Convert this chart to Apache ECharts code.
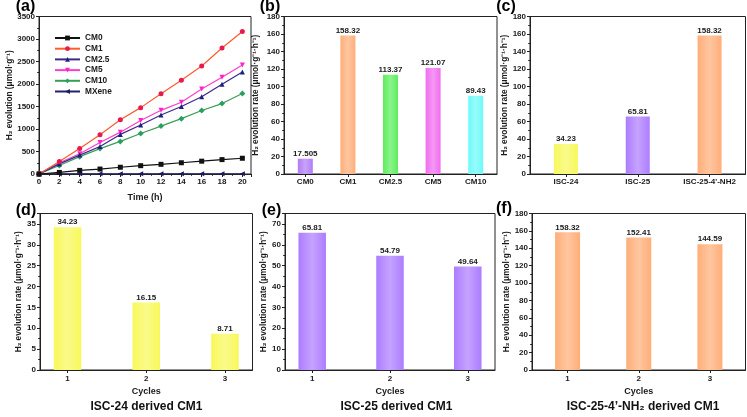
<!DOCTYPE html>
<html><head><meta charset="utf-8">
<script src="https://cdn.jsdelivr.net/npm/echarts@6/dist/echarts.min.js"></script>
<style>html,body{margin:0;padding:0;background:#fff}#c{width:747px;height:417px}</style>
</head><body><div id="c"></div>
<script>
// ---- data ----
const timeH = [0,2,4,6,8,10,12,14,16,18,20];
const cm0  = [0,35,80,110,150,185,215,250,285,320,350];
const cm1  = [0,280,565,870,1205,1475,1785,2085,2400,2800,3165];
const cm25 = [0,225,420,610,880,1090,1310,1500,1715,1995,2265];
const cm5  = [0,250,450,700,930,1190,1415,1595,1890,2150,2420];
const cm10 = [0,190,385,565,725,900,1065,1230,1410,1565,1790];
const mxene= [0,2,3,3,4,4,5,5,5,6,6];
const lineNames = ['CM0','CM1','CM2.5','CM5','CM10','MXene'];

const catsB = ['CM0','CM1','CM2.5','CM5','CM10'];
const valsB = [17.505,158.32,113.37,121.07,89.43];
const catsC = ['ISC-24','ISC-25',"ISC-25-4'-NH2"];
const valsC = [34.23,65.81,158.32];
const cycles = [1,2,3];
const valsD = [34.23,16.15,8.71];
const valsE = [65.81,54.79,49.64];
const valsF = [158.32,152.41,144.59];

// ---- styles ----
const FF = '"Liberation Sans", Arial, sans-serif';
const txt = (s) => ({fontFamily:FF, fontWeight:'bold', fontSize:s, color:'#1a1a1a'});
const PURPLE='#b07cf8', ORANGE='#ffae78', GREEN='#5cee5c', MAGENTA='#f26cf0', CYAN='#6cfafa', YELLOW='#f8f85a', VIOLET='#ad7cff';
function grad(c){
  return {type:'linear',x:0,y:0,x2:1,y2:0,colorStops:[
    {offset:0,color:c},{offset:0.5,color:echarts.color.lift(c,0.3)},{offset:1,color:c}]};
}
const colsB=[PURPLE,ORANGE,GREEN,MAGENTA,CYAN];
const colsC=[YELLOW,VIOLET,ORANGE];

const grids = [
  {left:39, top:16.5, width:212, height:157.5},
  {left:284, top:16.5, width:213, height:157.5},
  {left:530, top:16.5, width:215.5, height:157.5},
  {left:40, top:213.5, width:212.5, height:156.5},
  {left:285, top:213.5, width:210, height:156.5},
  {left:532, top:213.5, width:213.5, height:156.5}
].map(g=>Object.assign(g,{show:true,borderColor:'#222',borderWidth:1,containLabel:false}));

const rawFmt = (v)=>String(v);
function yAx(i,max,interval,gap){
  return {gridIndex:i,type:'value',min:0,max:max,interval:interval,
    name:'H\u2082 evolution rate (\u03bcmol\u00b7g\u207b\u00b9\u00b7h\u207b\u00b9)',
    nameLocation:'middle',nameGap:gap,nameTextStyle:txt(8.3),
    axisLine:{show:true,lineStyle:{color:'#222',width:1}},
    axisTick:{show:true,length:3,lineStyle:{color:'#222'}},
    minorTick:{show:true,splitNumber:2,length:1.8,lineStyle:{color:'#222'}},
    splitLine:{show:false},
    axisLabel:Object.assign({margin:4,formatter:rawFmt,showMaxLabel:interval*Math.round(max/interval)===max},txt(8))};
}
function catX(i,cats){
  return {gridIndex:i,type:'category',data:cats,boundaryGap:true,
    axisLine:{show:true,lineStyle:{color:'#222'}},
    axisTick:{show:true,alignWithLabel:true,length:3,lineStyle:{color:'#222'}},
    axisLabel:Object.assign({margin:4,interval:0},txt(8))};
}
function cycX(i,min,max){
  return {gridIndex:i,type:'value',min:min,max:max,
    name:'Cycles',nameLocation:'middle',nameGap:17,nameTextStyle:txt(9),
    axisLine:{show:true,lineStyle:{color:'#222'}},
    axisTick:{show:true,length:3,customValues:cycles,lineStyle:{color:'#222'}},
    splitLine:{show:false},
    axisLabel:Object.assign({margin:5,customValues:cycles},txt(8))};
}
const barLabel = Object.assign({show:true,position:'top',distance:1},txt(8));

const lineStyles = [
  {c:'#111111',m:'#111111',s:'rect',r:0},
  {c:'#ff5a30',m:'#e8194f',s:'circle',r:0},
  {c:'#3b2a8c',m:'#1f1f80',s:'triangle',r:0},
  {c:'#ff3fc8',m:'#ff22cc',s:'triangle',r:180},
  {c:'#3a9e55',m:'#2aa060',s:'diamond',r:0},
  {c:'#23236b',m:'#1a1a5e',s:'triangle',r:90}
];
const lineData=[cm0,cm1,cm25,cm5,cm10,mxene];
const lineSeries = lineData.map((d,k)=>({
  name:lineNames[k],type:'line',xAxisIndex:0,yAxisIndex:0,
  data:timeH.map((t,j)=>[t,d[j]]),
  symbol:lineStyles[k].s,symbolRotate:lineStyles[k].r,symbolSize:lineStyles[k].s==='diamond'?6:5,
  lineStyle:{color:lineStyles[k].c,width:1.2},
  itemStyle:{color:lineStyles[k].m},
  z:10-k, animation:false
}));

const option = {
  animation:false,
  grid:grids,
  legend:{orient:'vertical',left:54,top:34,itemWidth:25,itemHeight:6,itemGap:2.7,
    data:lineNames,textStyle:Object.assign({lineHeight:8},txt(8.3)),padding:0},
  xAxis:[
    {gridIndex:0,type:'value',min:0,max:20.85,interval:2,
      name:'Time (h)',nameLocation:'middle',nameGap:19,nameTextStyle:txt(9),
      axisLine:{show:true,lineStyle:{color:'#222'}},
      axisTick:{show:true,length:3,lineStyle:{color:'#222'}},
      minorTick:{show:true,splitNumber:2,length:1.8,lineStyle:{color:'#222'}},
      splitLine:{show:false},
      axisLabel:Object.assign({margin:4,showMaxLabel:false,formatter:rawFmt},txt(8))},
    catX(1,catsB), catX(2,catsC),
    cycX(3,0.65,3.35), cycX(4,0.65,3.35),
    Object.assign(catX(5,cycles.map(String)),{name:'Cycles',nameLocation:'middle',nameGap:17,nameTextStyle:txt(9),axisLabel:Object.assign({margin:5,interval:0},txt(8))})
  ],
  yAxis:[
    Object.assign(yAx(0,3500,500,25),{name:'H\u2082 evolution (\u03bcmol\u00b7g\u207b\u00b9)'}),
    yAx(1,180,20,24.5), yAx(2,180,20,19),
    yAx(3,37.5,5,15.5), yAx(4,75,10,15.5), yAx(5,180,20,20.5)
  ],
  series: lineSeries.concat([
    {type:'bar',xAxisIndex:1,yAxisIndex:1,barWidth:15,label:barLabel,
      data:valsB.map((v,k)=>({value:v,itemStyle:{color:grad(colsB[k])}}))},
    {type:'bar',xAxisIndex:2,yAxisIndex:2,barWidth:24,label:barLabel,
      data:valsC.map((v,k)=>({value:v,itemStyle:{color:grad(colsC[k])}}))},
    {type:'bar',xAxisIndex:3,yAxisIndex:3,barWidth:27.5,label:barLabel,
      itemStyle:{color:grad(YELLOW)},data:cycles.map((c,k)=>[c,valsD[k]])},
    {type:'bar',xAxisIndex:4,yAxisIndex:4,barWidth:27.5,label:barLabel,
      itemStyle:{color:grad(VIOLET)},data:cycles.map((c,k)=>[c,valsE[k]])},
    {type:'bar',xAxisIndex:5,yAxisIndex:5,barWidth:25,label:barLabel,
      itemStyle:{color:grad(ORANGE)},data:valsF}
  ]),
  graphic:[
    ['(a)',25.5,7],['(b)',270,7],['(c)',506,7],['(d)',26,211],['(e)',271.5,211],['(f)',504,209]
  ].map(([t,x,y])=>({type:'text',x:x,y:y,style:{text:t,font:'bold 16px '+FF,fill:'#000',align:'center',verticalAlign:'middle'}}))
  .concat([
    ['ISC-24 derived CM1',146.5],['ISC-25 derived CM1',396.5],['ISC-25-4\u2019-NH\u2082 derived CM1',643]
  ].map(([t,x])=>({type:'text',x:x,y:407,style:{text:t,font:'bold 12px '+FF,fill:'#111',align:'center',verticalAlign:'middle'}})))
};
const chart = echarts.init(document.getElementById('c'),null,{renderer:'canvas'});
chart.setOption(option);
</script></body></html>
